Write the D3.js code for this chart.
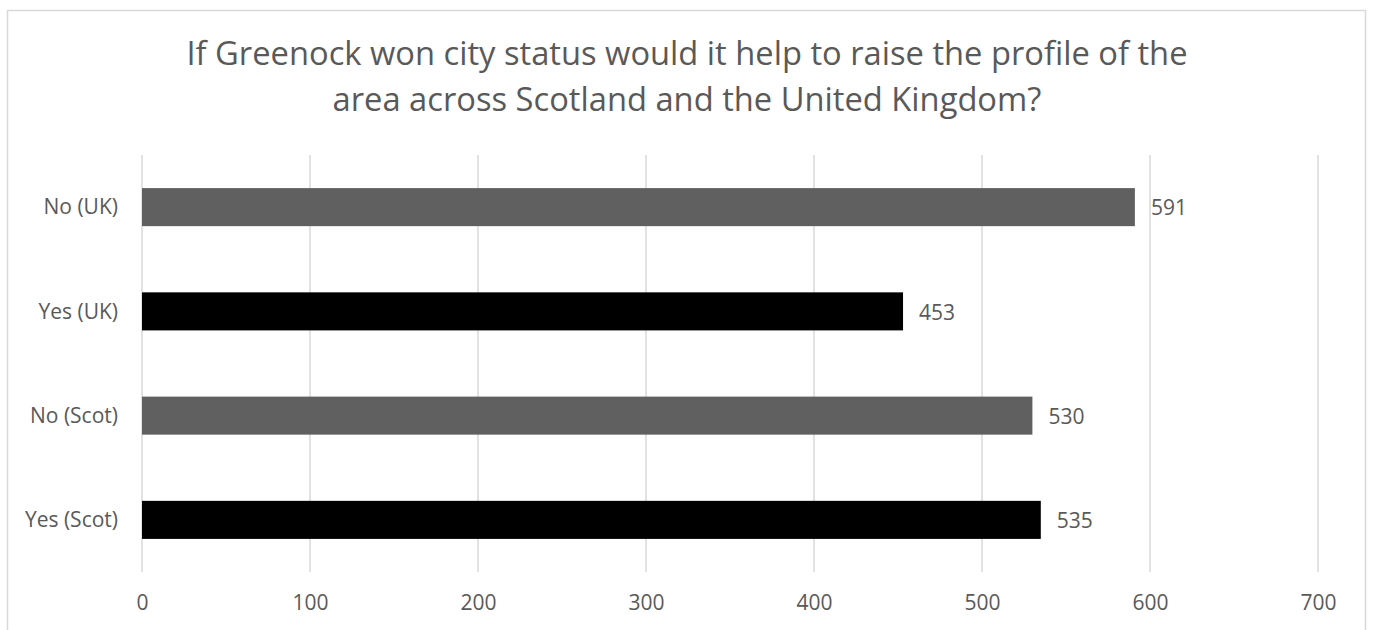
<!DOCTYPE html>
<html>
<head>
<meta charset="utf-8">
<script src="https://cdn.jsdelivr.net/npm/d3@7"></script>
<style>
  html, body { margin: 0; padding: 0; background: #fff; }
  svg { display: block; }
  text { font-family: "Open Sans", "Noto Sans", sans-serif; fill: #595959; }
</style>
</head>
<body>
<svg id="chart" width="1376" height="630"></svg>
<script>
// Survey responses, listed top to bottom as drawn
const categories = ["No (UK)", "Yes (UK)", "No (Scot)", "Yes (Scot)"];
const values = [591, 453, 530, 535];
const barColors = ["#606060", "#000000", "#606060", "#000000"];
const xTicks = [0, 100, 200, 300, 400, 500, 600, 700];
const titleLines = [
  "If Greenock won city status would it help to raise the profile of the",
  "area across Scotland and the United Kingdom?"
];

const svg = d3.select("#chart");
const plot = { left: 142, right: 1318, top: 155, bottom: 572 };

// Chart frame
svg.append("rect")
  .attr("x", 7.5).attr("y", 10.5)
  .attr("width", 1358).attr("height", 640)
  .attr("fill", "#fff").attr("stroke", "#d9d9d9").attr("stroke-width", 1.5);

// Title
svg.append("g").selectAll("text")
  .data(titleLines)
  .join("text")
  .attr("x", 687)
  .attr("y", (d, i) => 65 + i * 46)
  .attr("text-anchor", "middle")
  .attr("font-size", 32.7)
  .text(d => d);

const x = d3.scaleLinear().domain([0, 700]).range([plot.left, plot.right]);
const y = d3.scaleBand().domain(categories).range([plot.top, plot.bottom]).paddingInner(0.635).paddingOuter(0.3175);

// Vertical gridlines
svg.append("g").selectAll("line")
  .data(xTicks)
  .join("line")
  .attr("x1", d => x(d)).attr("x2", d => x(d))
  .attr("y1", plot.top).attr("y2", plot.bottom)
  .attr("stroke", "#d9d9d9").attr("stroke-width", 1.5);

// X axis tick labels
const xAxis = d3.axisBottom(x).tickValues(xTicks).tickSize(0).tickPadding(0);
const gx = svg.append("g").attr("transform", `translate(0,${plot.bottom})`).call(xAxis);
gx.select(".domain").remove();
gx.selectAll("text")
  .attr("y", 38).attr("dy", 0)
  .attr("font-size", 21)
  .style("font-family", '"Open Sans", "Noto Sans", sans-serif')
  .attr("fill", "#595959");

// Y axis category labels
const yAxis = d3.axisLeft(y).tickSize(0).tickPadding(24);
const gy = svg.append("g").attr("transform", `translate(${plot.left},0)`).call(yAxis);
gy.select(".domain").remove();
gy.selectAll("text")
  .attr("font-size", 21)
  .attr("dy", "0.35em")
  .style("font-family", '"Open Sans", "Noto Sans", sans-serif')
  .attr("fill", "#595959");

// Bars
svg.append("g").selectAll("rect")
  .data(values)
  .join("rect")
  .attr("x", x(0))
  .attr("y", (d, i) => y(categories[i]))
  .attr("width", d => x(d) - x(0))
  .attr("height", y.bandwidth())
  .attr("fill", (d, i) => barColors[i]);

// Value labels
svg.append("g").selectAll("text")
  .data(values)
  .join("text")
  .attr("x", d => x(d) + 16)
  .attr("y", (d, i) => y(categories[i]) + y.bandwidth() / 2 + 1)
  .attr("dy", "0.35em")
  .attr("font-size", 21)
  .text(d => d);
</script>
</body>
</html>
